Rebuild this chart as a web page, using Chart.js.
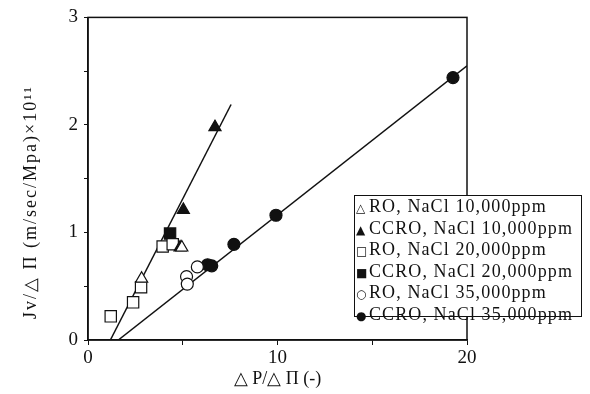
<!DOCTYPE html>
<html>
<head>
<meta charset="utf-8">
<script src="https://cdn.jsdelivr.net/npm/chart.js@4"></script>
<style>
  body { margin: 0; background: #fff; }
  .wrap { position: relative; width: 590px; height: 394px; }
  .legend {
    position: absolute; left: 354px; top: 195px; width: 228px; height: 122px;
    border: 1.5px solid #111; background: #fff; box-sizing: border-box;
    font: 18px "Liberation Serif", serif; letter-spacing: 1.1px; color: #111;
    padding: 1px 0 0 1px; line-height: 19.5px; white-space: nowrap;
  }
  .legend .sym { display: inline-block; width: 13px; font-family: "DejaVu Sans"; font-size: 12px; letter-spacing: 0; }
</style>
</head>
<body>
<div class="wrap">
  <canvas id="chart"></canvas>
  <div class="legend" id="legend"></div>
</div>
<script>
const xTicks = [0, 10, 20];
const yTicks = [0, 1, 2, 3];

const ro10 = [{ x: 2.83, y: 0.57 }, { x: 4.95, y: 0.86 }];
const ccro10 = [{ x: 4.86, y: 0.86 }, { x: 5.03, y: 1.21 }, { x: 6.7, y: 1.98 }];
const ro20 = [{ x: 1.2, y: 0.22 }, { x: 2.38, y: 0.35 }, { x: 2.8, y: 0.49 }, { x: 3.94, y: 0.87 }, { x: 4.47, y: 0.89 }];
const ccro20 = [{ x: 4.33, y: 0.99 }];
const ro35 = [{ x: 5.2, y: 0.59 }, { x: 5.24, y: 0.52 }, { x: 5.77, y: 0.68 }];
const ccro35 = [{ x: 6.31, y: 0.7 }, { x: 6.53, y: 0.69 }, { x: 7.7, y: 0.89 }, { x: 9.92, y: 1.16 }, { x: 19.26, y: 2.44 }];

const fitSteep = [{ x: 1.18, y: 0 }, { x: 7.55, y: 2.19 }];
const fitShallow = [{ x: 1.6, y: 0 }, { x: 20, y: 2.55 }];

const legendLabels = [
  ['△', 'RO, NaCl 10,000ppm'],
  ['▲', 'CCRO, NaCl 10,000ppm'],
  ['□', 'RO, NaCl 20,000ppm'],
  ['■', 'CCRO, NaCl 20,000ppm'],
  ['○', 'RO, NaCl 35,000ppm'],
  ['●', 'CCRO, NaCl 35,000ppm']
];

document.getElementById('legend').innerHTML = legendLabels
  .map(l => '<div><span class="sym">' + l[0] + '</span>' + l[1] + '</div>')
  .join('');

const ink = '#111';
const serif = '"Liberation Serif", serif';
const sizes = { triangle: 7, rect: 8, circle: 6 };

function marks(label, data, style, filled) {
  return {
    label: label,
    data: data,
    pointStyle: style,
    pointRadius: sizes[style],
    pointBorderColor: ink,
    pointBorderWidth: 1.2,
    pointBackgroundColor: filled ? ink : '#fff',
    showLine: false
  };
}

function fit(data) {
  return {
    data: data,
    showLine: true,
    borderColor: ink,
    borderWidth: 1.5,
    pointRadius: 0,
    order: 10
  };
}

// frame around the plot and the rotated y title
const framePlugin = {
  id: 'frame',
  afterDraw(chart) {
    const { ctx, chartArea: a } = chart;
    ctx.save();
    ctx.strokeStyle = ink;
    ctx.lineWidth = 1.5;
    ctx.strokeRect(a.left, a.top, a.right - a.left, a.bottom - a.top);
    ctx.translate(31, 202);
    ctx.rotate(-Math.PI / 2);
    ctx.fillStyle = ink;
    ctx.font = '18px ' + serif;
    ctx.letterSpacing = '2px';
    ctx.textAlign = 'center';
    ctx.textBaseline = 'middle';
    ctx.fillText('Jv/△ Π (m/sec/Mpa)×10¹¹', 0, 0);
    ctx.restore();
  }
};

new Chart(document.getElementById('chart'), {
  type: 'scatter',
  data: {
    datasets: [
      marks('RO, NaCl 10,000ppm', ro10, 'triangle', false),
      marks('CCRO, NaCl 10,000ppm', ccro10, 'triangle', true),
      marks('RO, NaCl 20,000ppm', ro20, 'rect', false),
      marks('CCRO, NaCl 20,000ppm', ccro20, 'rect', true),
      marks('RO, NaCl 35,000ppm', ro35, 'circle', false),
      marks('CCRO, NaCl 35,000ppm', ccro35, 'circle', true),
      fit(fitSteep),
      fit(fitShallow)
    ]
  },
  options: {
    responsive: true,
    maintainAspectRatio: false,
    animation: false,
    layout: { padding: { top: 12, right: 123, left: 0, bottom: 0 } },
    plugins: { legend: { display: false }, tooltip: { enabled: false } },
    scales: {
      x: {
        min: 0,
        max: 20,
        ticks: {
          stepSize: 5,
          color: ink,
          padding: 2,
          font: { family: serif, size: 19 },
          callback: v => (xTicks.includes(v) ? v : '')
        },
        grid: { drawOnChartArea: false, tickLength: 5, color: ink },
        border: { color: ink, width: 1.5 },
        title: {
          display: true,
          text: '△ P/△ Π (-)',
          color: ink,
          padding: { top: 4 },
          font: { family: serif, size: 18 }
        },
        afterFit: s => { s.height = 54; }
      },
      y: {
        min: 0,
        max: 3,
        ticks: {
          stepSize: 0.5,
          color: ink,
          padding: 6,
          font: { family: serif, size: 19 },
          callback: v => (yTicks.includes(v) ? v : '')
        },
        grid: { drawOnChartArea: false, tickLength: 4, color: ink },
        border: { color: ink, width: 1.5 },
        afterFit: s => { s.width = 88; }
      }
    }
  },
  plugins: [framePlugin]
});
</script>
</body>
</html>
